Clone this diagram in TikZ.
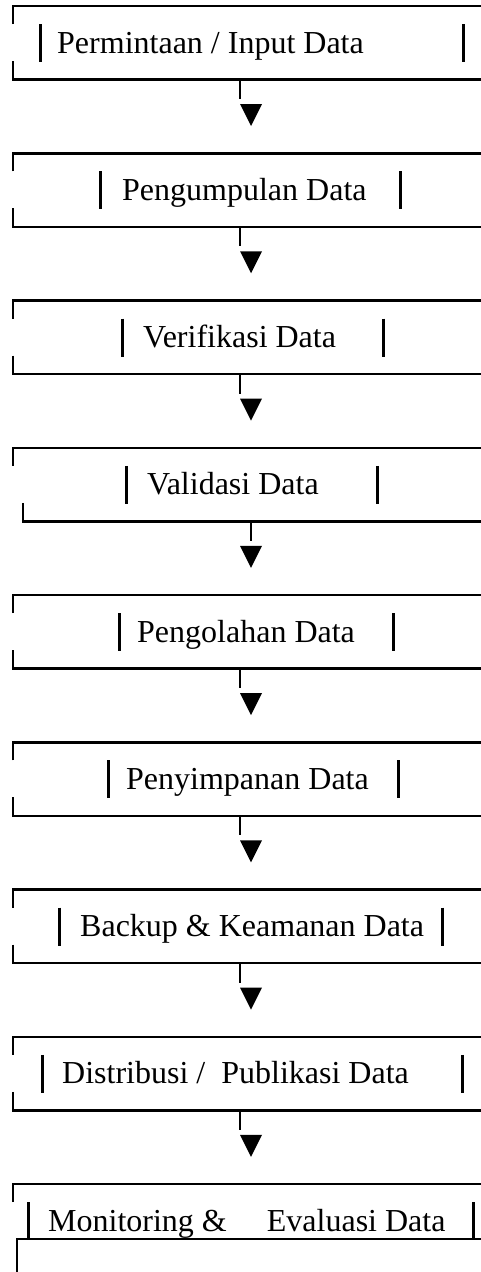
\documentclass[tikz,border=0pt]{standalone}
\usepackage{fontspec}
\setmainfont{Liberation Serif}
\tikzset{
    x=1pt,
    y=-1pt,
    frame/.style = {
        draw,
        line width=2.5pt
    },
    bar/.style = {
        draw,
        line width=3pt
    },
    txt/.style = {
        anchor=base west,
        inner sep=0pt,
        font=\fontsize{32}{38}\selectfont
    },
    stem/.style = {
        draw,
        line width=2.5pt
    },
    tip/.style = {
        fill=black
    },
    outer/.style = {
        draw,
        line width=2pt
    },
}

\begin{document}
\begin{tikzpicture}
            \useasboundingbox (0,0) rectangle (481,1272);

            \node[txt] (input) at (57,53) {Permintaan / Input Data};
            \node[txt] (collect) at (122,200.25) {Pengumpulan Data};
            \node[txt] (verify) at (143,347.5) {Verifikasi Data};
            \node[txt] (valid) at (147,494.75) {Validasi Data};
            \node[txt] (process) at (137,642) {Pengolahan Data};
            \node[txt] (store) at (126,789.25) {Penyimpanan Data};
            \node[txt] (backup) at (80,936.5) {Backup \& Keamanan Data};
            \node[txt] (publish) at (62,1083.75) {Distribusi /\ \ Publikasi Data};
            \node[txt] (monitor) at (48,1231) {Monitoring \&\hspace{40pt}Evaluasi Data};

            % frames
            \path[frame] (13,24) |- (490,6) (13,61) |- (490,79.5);
            \path[frame] (13,171.25) |- (490,153.25) (13,208.25) |- (490,226.75);
            \path[frame] (13,318.5) |- (490,300.5) (13,355.5) |- (490,374);
            \path[frame] (13,465.75) |- (490,447.75) (23,502.75) |- (490,521.25);
            \path[frame] (13,613) |- (490,595) (13,650) |- (490,668.5);
            \path[frame] (13,760.25) |- (490,742.25) (13,797.25) |- (490,815.75);
            \path[frame] (13,907.5) |- (490,889.5) (13,944.5) |- (490,963);
            \path[frame] (13,1054.75) |- (490,1036.75) (13,1091.75) |- (490,1110.25);
            \path[frame] (13,1202) |- (490,1184);
            \path[outer] (17,1239) rectangle (495,1290);

            % bars
            \path[bar] (40,24) -- (40,62) (463,24) -- (463,62);
            \path[bar] (100,171.25) -- (100,209.25) (400,171.25) -- (400,209.25);
            \path[bar] (122,318.5) -- (122,356.5) (383,318.5) -- (383,356.5);
            \path[bar] (126,465.75) -- (126,503.75) (377,465.75) -- (377,503.75);
            \path[bar] (119,613) -- (119,651) (393,613) -- (393,651);
            \path[bar] (108,760.25) -- (108,798.25) (398,760.25) -- (398,798.25);
            \path[bar] (59,907.5) -- (59,945.5) (442,907.5) -- (442,945.5);
            \path[bar] (42,1054.75) -- (42,1092.75) (462,1054.75) -- (462,1092.75);
            \path[bar] (28,1202) -- (28,1240) (473,1202) -- (473,1240);

            % arrows
            \coordinate (b1) at (240,79.5);     \coordinate (s1) at (240,99);
            \coordinate (b2) at (240,226.75);   \coordinate (s2) at (240,246.25);
            \coordinate (b3) at (240,374);      \coordinate (s3) at (240,393.5);
            \coordinate (b4) at (251,521.25);   \coordinate (s4) at (251,540.75);
            \coordinate (b5) at (240,668.5);    \coordinate (s5) at (240,688);
            \coordinate (b6) at (240,815.75);   \coordinate (s6) at (240,835.25);
            \coordinate (b7) at (240,963);      \coordinate (s7) at (240,982.5);
            \coordinate (b8) at (240,1110.25);  \coordinate (s8) at (240,1129.75);
            \path[stem] (b1) -- (s1);
            \path[stem] (b2) -- (s2);
            \path[stem] (b3) -- (s3);
            \path[stem] (b4) -- (s4);
            \path[stem] (b5) -- (s5);
            \path[stem] (b6) -- (s6);
            \path[stem] (b7) -- (s7);
            \path[stem] (b8) -- (s8);
            \fill[tip] (240,104) -- (262,104) -- (251,126) -- cycle;
            \fill[tip] (240,251.25) -- (262,251.25) -- (251,273.25) -- cycle;
            \fill[tip] (240,398.5) -- (262,398.5) -- (251,420.5) -- cycle;
            \fill[tip] (240,545.75) -- (262,545.75) -- (251,567.75) -- cycle;
            \fill[tip] (240,693) -- (262,693) -- (251,715) -- cycle;
            \fill[tip] (240,840.25) -- (262,840.25) -- (251,862.25) -- cycle;
            \fill[tip] (240,987.5) -- (262,987.5) -- (251,1009.5) -- cycle;
            \fill[tip] (240,1134.75) -- (262,1134.75) -- (251,1156.75) -- cycle;
        \end{tikzpicture}
\end{document}
